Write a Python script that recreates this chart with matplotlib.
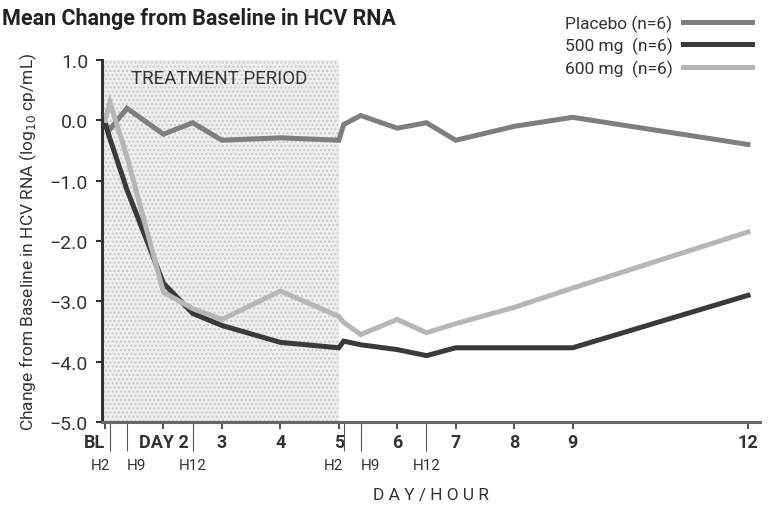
import numpy as np
import matplotlib
matplotlib.use('Agg')
import matplotlib.pyplot as plt

plt.rcParams['font.family'] = ['Roboto', 'DejaVu Sans']

# Tiempos (en dias) de cada medicion
dias = [1.0, 1 + 2/24, 1 + 9/24, 2.0, 2.5, 3.0, 4.0, 5.0, 5 + 2/24, 5 + 9/24,
        6.0, 6.5, 7.0, 8.0, 9.0, 12.0]

# Cambio medio desde basal (log10 cp/mL)
placebo = [-0.05, -0.15, 0.2, -0.23, -0.04, -0.33, -0.29, -0.33, -0.07, 0.08,
           -0.13, -0.04, -0.33, -0.1, 0.05, -0.4]
dosis_500 = [-0.05, -0.3, -1.15, -2.7, -3.2, -3.4, -3.68, -3.77, -3.66, -3.72,
             -3.8, -3.9, -3.77, -3.77, -3.77, -2.9]
dosis_600 = [0.0, 0.3, -0.6, -2.85, -3.12, -3.3, -2.83, -3.25, -3.35, -3.55,
             -3.3, -3.52, -3.37, -3.1, -2.78, -1.85]

series = ['Placebo (n=6)', '500 mg  (n=6)', '600 mg  (n=6)']
colores = ['#7e7e7e', '#3a3a3a', '#b6b6b6']

ticks_dia = [1, 2, 3, 4, 5, 6, 7, 8, 9, 12]
etiquetas_dia = ['BL', 'DAY 2', '3', '4', '5', '6', '7', '8', '9', '12']
ticks_hora = [1 + 2/24, 1 + 9/24, 2.5, 5 + 2/24, 5 + 9/24, 6.5]
etiquetas_hora = ['H2', 'H9', 'H12', 'H2', 'H9', 'H12']

fig = plt.figure(figsize=(7.68, 5.06), dpi=100)
ax = fig.add_axes([102/768, 83/506, 658/768, 362/506])

# periodo de tratamiento sombreado
ax.axvspan(0.9, 5.0, facecolor='#efefef', edgecolor='#c8c8c8', hatch='....',
           linewidth=0, zorder=0)
ax.text(2.95, 0.7, 'TREATMENT PERIOD', fontsize=13.5, color='#333333',
        ha='center', va='center')

for datos, nombre, c in zip([placebo, dosis_500, dosis_600], series, colores):
    ax.plot(dias, datos, color=c, lw=3.6, label=nombre, solid_joinstyle='miter')

ax.set_xlim(1 - 3/58.45, 12 + 12/58.45)
ax.set_ylim(-5, 1)

valores_y = np.arange(-5, 1.01, 1.0)
ax.set_yticks(valores_y)
ax.set_yticklabels([('%.1f' % v).replace('-', '\u2212') for v in valores_y],
                   fontsize=14, color='#333333')
ax.tick_params(axis='y', length=4, width=1.5, color='#333333', pad=6)

ax.set_xticks(ticks_dia)
ax.set_xticklabels(etiquetas_dia, fontsize=13, fontweight='bold', color='#333333')
ax.tick_params(axis='x', which='major', length=5, width=1.5, color='#555555', pad=3)
# BL a la izquierda de la linea H2
ax.get_xticklabels()[0].set_ha('right')
ax.set_xticks(ticks_hora, minor=True)
ax.set_xticklabels(etiquetas_hora, minor=True, fontsize=11, color='#333333')
ax.tick_params(axis='x', which='minor', length=21, width=0.8, color='#555555', pad=5)
# separar un poco H2 y H9 que quedan muy juntas
for i, t in enumerate(ax.get_xticklabels(minor=True)):
    if etiquetas_hora[i] == 'H2':
        t.set_ha('right')
    elif etiquetas_hora[i] == 'H9':
        t.set_ha('left')

for lado in ['top', 'right']:
    ax.spines[lado].set_visible(False)
ax.spines['left'].set_linewidth(2.2)
ax.spines['left'].set_color('#333333')
ax.spines['bottom'].set_linewidth(2.2)
ax.spines['bottom'].set_color('#666666')

ax.set_ylabel('Change from Baseline in HCV RNA (log$_{10}$ cp/mL)', fontsize=12.5,
              color='#333333', labelpad=8)
ax.set_xlabel('D A Y / H O U R', fontsize=12.5, color='#333333', labelpad=11)

fig.text(0.003, 0.985, 'Mean Change from Baseline in HCV RNA', fontsize=15.5,
         fontweight='bold', color='#222222', ha='left', va='top')

ax.legend(loc='upper right', bbox_to_anchor=(1.0, 1.0), bbox_transform=fig.transFigure,
          frameon=False, markerfirst=False, fontsize=12.5, handlelength=4.0,
          labelspacing=0.3, handletextpad=0.6, labelcolor='#333333')

fig.savefig('out.png', dpi=100)
